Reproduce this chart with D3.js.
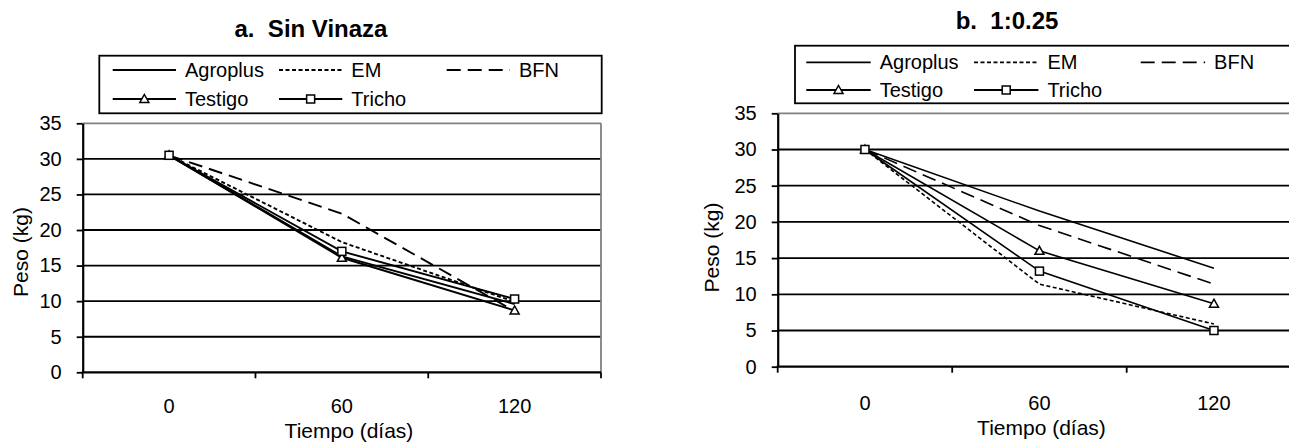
<!DOCTYPE html>
<html>
<head>
<meta charset="utf-8">
<script src="https://cdn.jsdelivr.net/npm/d3@7"></script>
<style>
  html, body { margin: 0; padding: 0; background: #fff; }
  svg { display: block; }
  text { font-family: "Liberation Sans", Arial, sans-serif; fill: #000; }
</style>
</head>
<body>
<svg id="chart" width="1289" height="444"></svg>
<script>
// ---------------- data ----------------
const categories = ["0", "60", "120"];
const seriesNames = ["Agroplus", "EM", "BFN", "Testigo", "Tricho"];
const yTicks = [0, 5, 10, 15, 20, 25, 30, 35];
const xAxisTitle = "Tiempo (días)";
const yAxisTitle = "Peso (kg)";

const titleA = "a.  Sin Vinaza";
const agroplusA = [30.5, 16.3, 9.6];
const emA       = [30.5, 18.3, 9.9];
const bfnA      = [30.5, 22.3, 8.6];
const testigoA  = [30.5, 16.1, 8.7];
const trichoA   = [30.5, 17.0, 10.3];

const titleB = "b.  1:0.25";
const agroplusB = [30.0, 21.5, 13.6];
const emB       = [30.0, 11.4, 5.9];
const bfnB      = [30.0, 19.5, 11.4];
const testigoB  = [30.0, 16.0, 8.7];
const trichoB   = [30.0, 13.2, 5.0];

// ---------------- styles ----------------
const seriesStyle = {
  Agroplus: { dash: null,    marker: null },
  EM:       { dash: "4,2.5", marker: null },
  BFN:      { dash: "14,7",  marker: null },
  Testigo:  { dash: null,    marker: "triangle" },
  Tricho:   { dash: null,    marker: "square" }
};

const panels = [
  {
    title: titleA, values: [agroplusA, emA, bfnA, testigoA, trichoA],
    plot: { x0: 82.7, x1: 601, y0: 123.3, y1: 372.3 },
    titlePos: { x: 311, y: 36.7 },
    legend: { x: 99.3, y: 55.7, w: 502.4, h: 57.6, cols: [112.7, 279, 446.7], rows: [70, 99], len: 63.3 },
    xTitle: { x: 349, y: 438 }, yTitle: { x: 22, y: 252 },
    xLabelY: 413, lineW: 1.9, rightBorder: true
  },
  {
    title: titleB, values: [agroplusB, emB, bfnB, testigoB, trichoB],
    plot: { x0: 777.7, x1: 1301.2, y0: 113.3, y1: 366.7 },
    titlePos: { x: 1007, y: 29.3 },
    legend: { x: 795, y: 45.7, w: 520, h: 57.6, cols: [806.3, 974, 1140.7], rows: [62.3, 90], len: 64.4 },
    xTitle: { x: 1041.5, y: 435 }, yTitle: { x: 713, y: 247.5 },
    xLabelY: 410, lineW: 1.6, rightBorder: false
  }
];

const svg = d3.select("#chart");

function drawMarker(g, type, x, y) {
  if (type === "square") {
    g.append("rect").attr("x", x - 4).attr("y", y - 4).attr("width", 8).attr("height", 8)
      .attr("fill", "#fff").attr("stroke", "#000").attr("stroke-width", 1.5);
  } else if (type === "triangle") {
    g.append("path").attr("d", `M${x},${y - 4.5}L${x + 4.5},${y + 3.5}L${x - 4.5},${y + 3.5}Z`)
      .attr("fill", "#fff").attr("stroke", "#000").attr("stroke-width", 1.5);
  }
}

panels.forEach(p => {
  const g = svg.append("g");
  const x = d3.scaleBand().domain(categories).range([p.plot.x0, p.plot.x1]).padding(0);
  const y = d3.scaleLinear().domain([0, 35]).range([p.plot.y1, p.plot.y0]);
  const cx = c => x(c) + x.bandwidth() / 2;

  // title
  g.append("text").attr("x", p.titlePos.x).attr("y", p.titlePos.y)
    .attr("text-anchor", "middle").attr("font-size", 24).attr("font-weight", "bold")
    .attr("xml:space", "preserve").style("white-space", "pre").text(p.title);

  // gridlines
  g.selectAll(".grid").data(yTicks.filter(v => v > 0 && v < 35)).enter().append("line")
    .attr("x1", p.plot.x0).attr("x2", p.plot.x1)
    .attr("y1", d => y(d)).attr("y2", d => y(d))
    .attr("stroke", "#000").attr("stroke-width", 1.8);
  // top border (grey)
  g.append("line").attr("x1", p.plot.x0).attr("x2", p.plot.x1)
    .attr("y1", y(35)).attr("y2", y(35)).attr("stroke", "#808080").attr("stroke-width", 1.8);
  if (p.rightBorder) {
    g.append("line").attr("x1", p.plot.x1).attr("x2", p.plot.x1)
      .attr("y1", y(35)).attr("y2", y(0)).attr("stroke", "#808080").attr("stroke-width", 1.8);
  }

  // y axis
  const yAxis = d3.axisLeft(y).tickValues(yTicks).tickSize(6).tickPadding(15).tickSizeOuter(0);
  const ya = g.append("g").attr("transform", `translate(${p.plot.x0},0)`).call(yAxis);
  ya.select(".domain").attr("stroke", "#000").attr("stroke-width", 2.2);
  ya.selectAll(".tick line").attr("stroke", "#000").attr("stroke-width", 1.8);
  ya.selectAll(".tick text").attr("font-size", 20).attr("font-family", "Liberation Sans, Arial, sans-serif").attr("fill", "#000");

  // x axis line
  g.append("line").attr("x1", p.plot.x0 - 1).attr("x2", p.plot.x1)
    .attr("y1", y(0)).attr("y2", y(0)).attr("stroke", "#000").attr("stroke-width", 2.2);
  // x ticks at band edges
  const edges = categories.map(c => x(c)).concat([x(categories[categories.length - 1]) + x.bandwidth()]);
  g.selectAll(".xt").data(edges).enter().append("line")
    .attr("x1", d => d).attr("x2", d => d).attr("y1", y(0)).attr("y2", y(0) + 6)
    .attr("stroke", "#000").attr("stroke-width", 1.8);
  // x labels
  g.selectAll(".xl").data(categories).enter().append("text")
    .attr("x", d => cx(d)).attr("y", p.xLabelY).attr("text-anchor", "middle")
    .attr("font-size", 20).text(d => d);

  // axis titles
  g.append("text").attr("x", p.xTitle.x).attr("y", p.xTitle.y).attr("text-anchor", "middle")
    .attr("font-size", 21).text(xAxisTitle);
  g.append("text").attr("transform", `translate(${p.yTitle.x},${p.yTitle.y}) rotate(-90)`)
    .attr("text-anchor", "middle").attr("dy", "0.3em").attr("font-size", 21).text(yAxisTitle);

  // series lines
  const line = d3.line().x((d, i) => cx(categories[i])).y(d => y(d));
  seriesNames.forEach((name, si) => {
    const st = seriesStyle[name];
    const vals = p.values[si];
    g.append("path").datum(vals).attr("d", line).attr("fill", "none")
      .attr("stroke", "#000").attr("stroke-width", p.lineW)
      .attr("stroke-dasharray", st.dash);
    if (st.marker) {
      vals.forEach((v, i) => drawMarker(g, st.marker, cx(categories[i]), y(v)));
    }
  });

  // legend
  const L = p.legend;
  g.append("rect").attr("x", L.x).attr("y", L.y).attr("width", L.w).attr("height", L.h)
    .attr("fill", "#fff").attr("stroke", "#000").attr("stroke-width", 1.8);
  seriesNames.forEach((name, i) => {
    const st = seriesStyle[name];
    const col = i % 3, row = Math.floor(i / 3);
    const lx = L.cols[col], ly = L.rows[row];
    g.append("line").attr("x1", lx).attr("x2", lx + L.len).attr("y1", ly).attr("y2", ly)
      .attr("stroke", "#000").attr("stroke-width", 1.8).attr("stroke-dasharray", st.dash);
    if (st.marker) drawMarker(g, st.marker, lx + L.len / 2, ly);
    g.append("text").attr("x", lx + L.len + 9).attr("y", ly + 7)
      .attr("font-size", 20).text(name);
  });
});
</script>
</body>
</html>
